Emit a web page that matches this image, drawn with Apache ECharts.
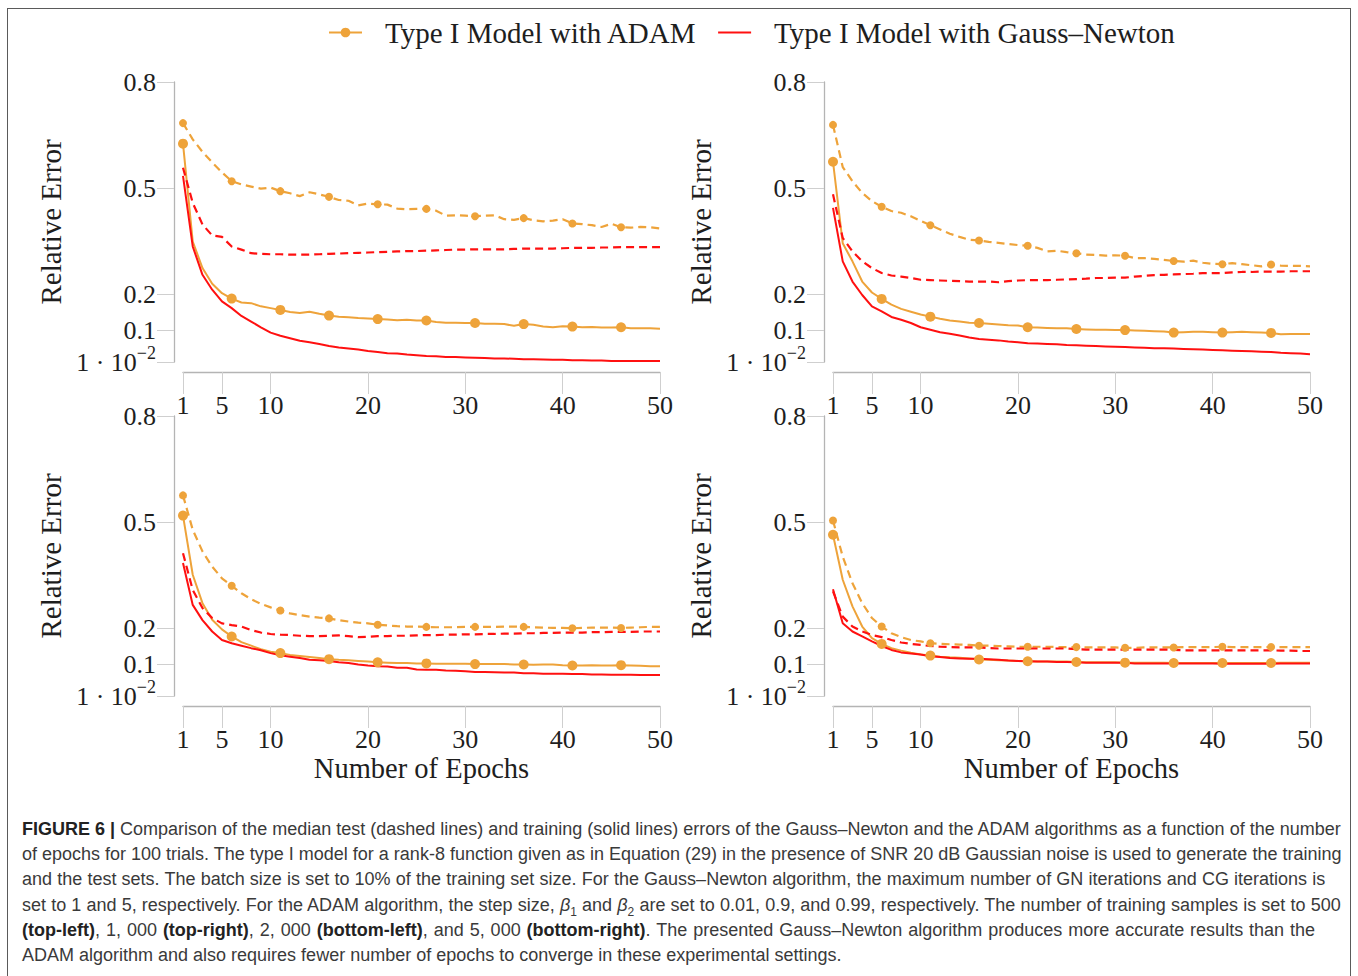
<!DOCTYPE html>
<html>
<head>
<meta charset="utf-8">
<script src="https://cdn.jsdelivr.net/npm/echarts@6/dist/echarts.min.js"></script>
<style>
  html, body { margin: 0; padding: 0; background: #fff; }
  #frame { position: absolute; left: 7px; top: 8px; width: 1344px; height: 1000px; border: 1.5px solid #5a5a5a; box-sizing: border-box; }
  #chart { position: absolute; left: 0; top: 0; width: 1358px; height: 976px; }
  #caption { position: absolute; left: 22px; top: 817px; font-family: "Liberation Sans", Arial, sans-serif; font-size: 18px; line-height: 25.2px; color: #3a3a3a; white-space: nowrap; }
  #caption .ln { width: max-content; }
  #caption b { color: #222; }
  #caption sub { font-size: 12px; line-height: 0; }
</style>
</head>
<body>
<div id="frame"></div>
<div id="chart"></div>
<div id="caption">
  <div class="ln" data-right="1341"><b>FIGURE 6 |</b> Comparison of the median test (dashed lines) and training (solid lines) errors of the Gauss–Newton and the ADAM algorithms as a function of the number</div>
  <div class="ln" data-right="1341">of epochs for 100 trials. The type I model for a rank-8 function given as in Equation (29) in the presence of SNR 20 dB Gaussian noise is used to generate the training</div>
  <div class="ln" data-right="1325">and the test sets. The batch size is set to 10% of the training set size. For the Gauss–Newton algorithm, the maximum number of GN iterations and CG iterations is</div>
  <div class="ln" data-right="1341">set to 1 and 5, respectively. For the ADAM algorithm, the step size, <i>β</i><sub>1</sub> and <i>β</i><sub>2</sub> are set to 0.01, 0.9, and 0.99, respectively. The number of training samples is set to 500</div>
  <div class="ln" data-right="1315"><b>(top-left)</b>, 1, 000 <b>(top-right)</b>, 2, 000 <b>(bottom-left)</b>, and 5, 000 <b>(bottom-right)</b>. The presented Gauss–Newton algorithm produces more accurate results than the</div>
  <div class="ln">ADAM algorithm and also requires fewer number of epochs to converge in these experimental settings.</div>
</div>
<script>
const epochs = [1, 2, 3, 4, 5, 6, 7, 8, 9, 10, 11, 12, 13, 14, 15, 16, 17, 18, 19, 20,
  21, 22, 23, 24, 25, 26, 27, 28, 29, 30, 31, 32, 33, 34, 35, 36, 37, 38, 39, 40,
  41, 42, 43, 44, 45, 46, 47, 48, 49, 50];
const xTicks = [1, 5, 10, 20, 30, 40, 50];
const yTicks = [0.01, 0.1, 0.2, 0.5, 0.8];

// top-left: 500 samples
const tlAdamTrain = [0.626, 0.350, 0.275, 0.231, 0.204, 0.189, 0.178, 0.176, 0.167, 0.162,
  0.157, 0.151, 0.148, 0.152, 0.146, 0.141, 0.138, 0.136, 0.134, 0.133,
  0.131, 0.130, 0.128, 0.129, 0.127, 0.127, 0.123, 0.121, 0.121, 0.120,
  0.120, 0.118, 0.118, 0.117, 0.112, 0.117, 0.115, 0.110, 0.108, 0.111,
  0.110, 0.108, 0.109, 0.107, 0.107, 0.108, 0.105, 0.105, 0.105, 0.104];
const tlAdamTest = [0.684, 0.638, 0.603, 0.573, 0.545, 0.520, 0.511, 0.505, 0.499, 0.502,
  0.492, 0.486, 0.478, 0.489, 0.483, 0.476, 0.467, 0.465, 0.452, 0.457,
  0.455, 0.454, 0.443, 0.441, 0.442, 0.442, 0.437, 0.423, 0.424, 0.423,
  0.421, 0.423, 0.424, 0.413, 0.411, 0.416, 0.410, 0.407, 0.409, 0.413,
  0.401, 0.399, 0.396, 0.391, 0.400, 0.390, 0.389, 0.391, 0.390, 0.387];
const tlGnTrain = [0.535, 0.336, 0.256, 0.214, 0.181, 0.162, 0.140, 0.124, 0.108, 0.093,
  0.084, 0.077, 0.070, 0.066, 0.061, 0.055, 0.051, 0.048, 0.045, 0.041,
  0.038, 0.035, 0.034, 0.031, 0.029, 0.027, 0.026, 0.024, 0.024, 0.023,
  0.022, 0.021, 0.020, 0.020, 0.019, 0.018, 0.018, 0.017, 0.016, 0.016,
  0.015, 0.015, 0.014, 0.014, 0.013, 0.013, 0.013, 0.0125, 0.0125, 0.0125];
const tlGnTest = [0.558, 0.459, 0.398, 0.367, 0.363, 0.336, 0.327, 0.317, 0.315, 0.314,
  0.314, 0.313, 0.313, 0.313, 0.314, 0.315, 0.316, 0.317, 0.318, 0.319,
  0.320, 0.321, 0.322, 0.323, 0.323, 0.324, 0.325, 0.326, 0.327, 0.327,
  0.328, 0.328, 0.328, 0.328, 0.329, 0.330, 0.330, 0.330, 0.330, 0.331,
  0.332, 0.332, 0.332, 0.333, 0.333, 0.334, 0.334, 0.334, 0.334, 0.334];

// top-right: 1,000 samples
const trAdamTrain = [0.575, 0.345, 0.294, 0.237, 0.206, 0.188, 0.172, 0.160, 0.152, 0.144,
  0.138, 0.132, 0.127, 0.124, 0.121, 0.120, 0.118, 0.116, 0.114, 0.113,
  0.108, 0.107, 0.106, 0.105, 0.105, 0.103, 0.102, 0.101, 0.101, 0.100,
  0.100, 0.099, 0.098, 0.097, 0.096, 0.093, 0.094, 0.095, 0.095, 0.094,
  0.093, 0.094, 0.095, 0.094, 0.093, 0.092, 0.088, 0.089, 0.089, 0.089];
const trAdamTest = [0.679, 0.560, 0.520, 0.487, 0.464, 0.448, 0.436, 0.431, 0.421, 0.408,
  0.396, 0.384, 0.372, 0.363, 0.355, 0.353, 0.349, 0.346, 0.343, 0.340,
  0.338, 0.332, 0.322, 0.324, 0.320, 0.317, 0.313, 0.312, 0.310, 0.311,
  0.310, 0.303, 0.303, 0.301, 0.298, 0.295, 0.293, 0.296, 0.290, 0.287,
  0.286, 0.289, 0.286, 0.283, 0.280, 0.285, 0.282, 0.281, 0.281, 0.280];
const trGnTrain = [0.445, 0.294, 0.237, 0.199, 0.167, 0.153, 0.137, 0.129, 0.120, 0.108,
  0.101, 0.094, 0.090, 0.085, 0.079, 0.075, 0.073, 0.071, 0.068, 0.066,
  0.063, 0.062, 0.061, 0.060, 0.058, 0.057, 0.056, 0.055, 0.054, 0.053,
  0.052, 0.051, 0.050, 0.049, 0.049, 0.048, 0.047, 0.046, 0.045, 0.044,
  0.043, 0.042, 0.041, 0.040, 0.039, 0.038, 0.036, 0.035, 0.034, 0.032];
const trGnTest = [0.483, 0.360, 0.322, 0.294, 0.275, 0.261, 0.254, 0.251, 0.247, 0.242,
  0.241, 0.240, 0.239, 0.238, 0.237, 0.237, 0.237, 0.235, 0.238, 0.240,
  0.241, 0.241, 0.241, 0.242, 0.243, 0.244, 0.245, 0.247, 0.247, 0.248,
  0.248, 0.251, 0.253, 0.255, 0.256, 0.257, 0.258, 0.259, 0.261, 0.261,
  0.261, 0.263, 0.264, 0.264, 0.265, 0.265, 0.265, 0.266, 0.266, 0.266];

// bottom-left: 2,000 samples
const blAdamTrain = [0.519, 0.352, 0.272, 0.225, 0.198, 0.178, 0.162, 0.152, 0.142, 0.135,
  0.131, 0.126, 0.123, 0.120, 0.117, 0.114, 0.112, 0.111, 0.109, 0.107,
  0.105, 0.104, 0.103, 0.103, 0.102, 0.102, 0.101, 0.101, 0.101, 0.101,
  0.100, 0.100, 0.100, 0.100, 0.099, 0.099, 0.098, 0.099, 0.099, 0.097,
  0.096, 0.096, 0.097, 0.096, 0.096, 0.097, 0.096, 0.095, 0.094, 0.094];
const blAdamTest = [0.576, 0.479, 0.418, 0.375, 0.342, 0.321, 0.300, 0.283, 0.270, 0.260,
  0.251, 0.243, 0.238, 0.234, 0.231, 0.229, 0.224, 0.220, 0.217, 0.215,
  0.211, 0.209, 0.207, 0.206, 0.206, 0.205, 0.204, 0.204, 0.204, 0.205,
  0.205, 0.205, 0.205, 0.206, 0.206, 0.205, 0.204, 0.203, 0.202, 0.202,
  0.201, 0.202, 0.203, 0.203, 0.203, 0.202, 0.203, 0.204, 0.205, 0.205];
const blGnTrain = [0.385, 0.267, 0.224, 0.192, 0.168, 0.159, 0.152, 0.145, 0.139, 0.131,
  0.125, 0.121, 0.117, 0.112, 0.111, 0.109, 0.105, 0.103, 0.099, 0.096,
  0.094, 0.093, 0.090, 0.090, 0.085, 0.084, 0.084, 0.082, 0.081, 0.080,
  0.078, 0.078, 0.077, 0.076, 0.076, 0.074, 0.074, 0.073, 0.073, 0.073,
  0.072, 0.072, 0.071, 0.071, 0.070, 0.070, 0.070, 0.069, 0.069, 0.069];
const blGnTest = [0.413, 0.309, 0.258, 0.230, 0.215, 0.210, 0.206, 0.196, 0.189, 0.185,
  0.183, 0.182, 0.180, 0.179, 0.179, 0.180, 0.181, 0.179, 0.176, 0.177,
  0.179, 0.179, 0.180, 0.180, 0.181, 0.182, 0.182, 0.183, 0.183, 0.184,
  0.184, 0.185, 0.185, 0.186, 0.186, 0.187, 0.187, 0.188, 0.188, 0.189,
  0.189, 0.189, 0.190, 0.190, 0.191, 0.191, 0.191, 0.192, 0.192, 0.192];

// bottom-right: 5,000 samples
const brAdamTrain = [0.465, 0.338, 0.263, 0.206, 0.173, 0.157, 0.145, 0.138, 0.132, 0.127,
  0.124, 0.121, 0.119, 0.118, 0.116, 0.113, 0.112, 0.111, 0.110, 0.109,
  0.108, 0.107, 0.107, 0.107, 0.107, 0.106, 0.105, 0.105, 0.105, 0.105,
  0.104, 0.104, 0.104, 0.104, 0.104, 0.103, 0.103, 0.103, 0.103, 0.103,
  0.103, 0.103, 0.103, 0.103, 0.103, 0.103, 0.104, 0.104, 0.104, 0.104];
const brAdamTest = [0.505, 0.403, 0.328, 0.272, 0.230, 0.206, 0.187, 0.176, 0.168, 0.164,
  0.159, 0.157, 0.156, 0.155, 0.154, 0.152, 0.152, 0.151, 0.150, 0.149,
  0.149, 0.149, 0.149, 0.148, 0.148, 0.148, 0.147, 0.147, 0.147, 0.147,
  0.146, 0.146, 0.147, 0.147, 0.147, 0.147, 0.148, 0.148, 0.148, 0.148,
  0.149, 0.148, 0.148, 0.148, 0.148, 0.148, 0.148, 0.148, 0.148, 0.148];
const brGnTrain = [0.311, 0.215, 0.192, 0.178, 0.164, 0.151, 0.140, 0.133, 0.130, 0.127,
  0.122, 0.120, 0.117, 0.116, 0.115, 0.115, 0.114, 0.112, 0.110, 0.109,
  0.108, 0.107, 0.107, 0.106, 0.106, 0.105, 0.104, 0.104, 0.104, 0.104,
  0.104, 0.102, 0.102, 0.102, 0.102, 0.102, 0.102, 0.102, 0.102, 0.102,
  0.101, 0.101, 0.101, 0.101, 0.101, 0.101, 0.102, 0.102, 0.102, 0.102];
const brGnTest = [0.305, 0.234, 0.206, 0.192, 0.182, 0.176, 0.168, 0.161, 0.157, 0.154,
  0.151, 0.149, 0.148, 0.147, 0.147, 0.147, 0.145, 0.144, 0.144, 0.144,
  0.144, 0.144, 0.144, 0.144, 0.144, 0.142, 0.141, 0.141, 0.141, 0.141,
  0.141, 0.141, 0.141, 0.141, 0.141, 0.140, 0.139, 0.139, 0.139, 0.139,
  0.139, 0.139, 0.139, 0.139, 0.139, 0.139, 0.138, 0.138, 0.137, 0.137];

const ADAM = "Type I Model with ADAM";
const GN = "Type I Model with Gauss–Newton";
const ORANGE = "#eea33a";
const RED = "#ff1010";
const SERIF = "'Liberation Serif', 'DejaVu Serif', serif";
const INK = "#1e1e1e";

const panels = [
  { left: 183, top: 82, xName: "", adamTrain: tlAdamTrain, adamTest: tlAdamTest, gnTrain: tlGnTrain, gnTest: tlGnTest },
  { left: 833, top: 82, xName: "", adamTrain: trAdamTrain, adamTest: trAdamTest, gnTrain: trGnTrain, gnTest: trGnTest },
  { left: 183, top: 416, xName: "Number of Epochs", adamTrain: blAdamTrain, adamTest: blAdamTest, gnTrain: blGnTrain, gnTest: blGnTest },
  { left: 833, top: 416, xName: "Number of Epochs", adamTrain: brAdamTrain, adamTest: brAdamTest, gnTrain: brGnTrain, gnTest: brGnTest },
];

function yLabel(v) {
  if (Math.abs(v - 0.01) < 1e-9) return "{m|1 · 10}{s|−2}";
  return "{m|" + String(Math.round(v * 10) / 10) + "}";
}

// line only; symbol:'circle' is kept so the legend icon shows the marker
function adamLine(values, idx, dashed) {
  return {
    name: ADAM,
    type: "line",
    xAxisIndex: idx,
    yAxisIndex: idx,
    data: values.map((v, i) => ({ value: [epochs[i], v], symbol: "none" })),
    symbol: "circle",
    symbolSize: 10,
    lineStyle: { color: ORANGE, width: dashed ? 2.2 : 2, type: dashed ? [8, 5] : "solid" },
    itemStyle: { color: ORANGE },
    emphasis: { disabled: true },
    z: 2,
  };
}

// markers every 5 epochs (1, 6, 11, ...), drawn above the red lines
function adamMarks(values, idx, dashed) {
  return {
    type: "scatter",
    xAxisIndex: idx,
    yAxisIndex: idx,
    data: values.map((v, i) => [epochs[i], v]).filter((d, i) => i % 5 === 0),
    symbol: "circle",
    symbolSize: dashed ? 8 : 10,
    itemStyle: { color: ORANGE, opacity: 1 },
    emphasis: { disabled: true },
    z: 5,
  };
}

function gnLine(values, idx, dashed) {
  return {
    name: GN,
    type: "line",
    xAxisIndex: idx,
    yAxisIndex: idx,
    data: values.map((v, i) => [epochs[i], v]),
    symbol: "none",
    lineStyle: { color: RED, width: dashed ? 2.2 : 2, type: dashed ? [8, 5] : "solid" },
    itemStyle: { color: RED },
    emphasis: { disabled: true },
    z: 3,
  };
}

const grids = panels.map((p) => ({ left: p.left, top: p.top, width: 477, height: 280, outerBoundsMode: "none" }));

const xAxes = panels.map((p, i) => ({
  gridIndex: i,
  type: "value",
  min: 1,
  max: 50,
  offset: 10,
  name: p.xName,
  nameLocation: "middle",
  nameGap: 48,
  nameTextStyle: { fontFamily: SERIF, fontSize: 28.5, color: INK },
  axisLine: { show: true, lineStyle: { color: "#b4b4b4", width: 1.3 } },
  axisTick: { show: true, inside: false, length: 22, customValues: xTicks, lineStyle: { color: "#cfcfcf", width: 1 } },
  axisLabel: { customValues: xTicks, margin: 20, fontFamily: SERIF, fontSize: 26, color: INK },
  splitLine: { show: false },
}));

const yAxes = panels.map((p, i) => ({
  gridIndex: i,
  type: "value",
  min: 0.01,
  max: 0.8,
  offset: 9,
  name: "Relative Error",
  nameLocation: "middle",
  nameRotate: 90,
  nameGap: 109,
  nameTextStyle: { fontFamily: SERIF, fontSize: 29, color: INK },
  axisLine: { show: true, lineStyle: { color: "#b4b4b4", width: 1.3 } },
  axisTick: { show: true, length: 17, customValues: yTicks, lineStyle: { color: "#cfcfcf", width: 1 } },
  axisLabel: {
    customValues: yTicks,
    margin: 18,
    formatter: yLabel,
    rich: {
      m: { fontFamily: SERIF, fontSize: 26, color: INK, lineHeight: 36 },
      s: { fontFamily: SERIF, fontSize: 18, color: INK, lineHeight: 16, verticalAlign: "top" },
    },
  },
  splitLine: { show: false },
}));

const series = [];
panels.forEach((p, i) => {
  series.push(adamLine(p.adamTrain, i, false));
  series.push(adamLine(p.adamTest, i, true));
});
panels.forEach((p, i) => {
  series.push(gnLine(p.gnTrain, i, false));
  series.push(gnLine(p.gnTest, i, true));
});
panels.forEach((p, i) => {
  series.push(adamMarks(p.adamTrain, i, false));
  series.push(adamMarks(p.adamTest, i, true));
});

const chart = echarts.init(document.getElementById("chart"), null, { renderer: "svg" });
chart.setOption({
  animation: false,
  backgroundColor: "transparent",
  legend: {
    data: [ADAM, { name: GN, itemStyle: { opacity: 0 } }],
    left: 323,
    top: 13,
    itemWidth: 33,
    itemHeight: 12,
    itemGap: 20,
    selectedMode: false,
    textStyle: { fontFamily: SERIF, fontSize: 29, color: INK, padding: [0, 0, 0, 18] },
  },
  grid: grids,
  xAxis: xAxes,
  yAxis: yAxes,
  series: series,
});

// stretch the word gaps so each caption line ends where it does in the figure
document.querySelectorAll("#caption .ln[data-right]").forEach((el) => {
  const target = Number(el.dataset.right) - 22;
  const spaces = (el.textContent.trim().match(/ /g) || []).length;
  const extra = target - el.offsetWidth;
  if (spaces > 0 && extra > 0) el.style.wordSpacing = extra / spaces + "px";
});
</script>
</body>
</html>
